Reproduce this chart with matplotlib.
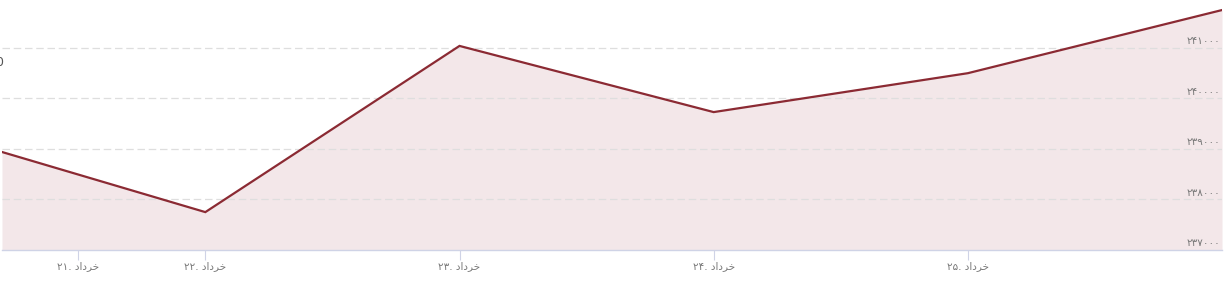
import matplotlib
matplotlib.use('Agg')
from matplotlib import pyplot as plt
from matplotlib.ticker import FixedLocator

# داده‌ها (روز خرداد و مقدار)
days = [21.2, 22, 23, 24, 25, 26]
values = [238940, 237750, 241040, 239730, 240500, 241750]

tick_days = [21.5, 22, 23, 24, 25]
tick_names = ['21', '22', '23', '24', '25']
y_ticks = [237000, 238000, 239000, 240000, 241000]

FA_DIGITS = str.maketrans('0123456789', '۰۱۲۳۴۵۶۷۸۹')
# "خرداد" با حروف شکل‌یافته و ترتیب نمایشی (matplotlib شکل‌دهی عربی ندارد)
MONTH = '\uFEA9\uFE8D\uFEA9\uFEAE\uFEA7'


def fa(s):
    return str(s).translate(FA_DIGITS)


plt.rcParams['font.family'] = ['DejaVu Sans']

fig = plt.figure(figsize=(12.25, 2.88), dpi=100)
ax = fig.add_axes([2 / 1225, 1 - 250 / 288, 1220 / 1225, 245 / 288])

line_c = '#8b2a33'
ax.fill_between(days, values, 237000, color='#f3e7e9', lw=0, zorder=1)
ax.plot(days, values, color=line_c, lw=1.6, solid_joinstyle='miter', zorder=3)

ax.set_xlim(21.2, 26.0)
ax.set_ylim(237000, 241850)

for v in y_ticks:
    if v != y_ticks[0]:
        ax.axhline(v, color='#dedede', lw=0.9, dashes=(6, 3), zorder=2)
    ax.annotate(fa(v), (1.0, v), xycoords=('axes fraction', 'data'),
                xytext=(-1, 5), textcoords='offset points',
                ha='right', va='center', fontsize=7.5, color='#777777')

for s in ['top', 'right', 'left']:
    ax.spines[s].set_visible(False)
ax.spines['bottom'].set_color('#cfd3e6')
ax.spines['bottom'].set_linewidth(1)

ax.set_yticks([])
ax.xaxis.set_major_locator(FixedLocator(tick_days))
ax.set_xticklabels([fa(n) + '. ' + MONTH for n in tick_names])
ax.tick_params(axis='x', length=7, width=0.8, color='#cfd3e6',
               labelsize=7.5, labelcolor='#777777', pad=1)

# تکه‌ی بریده‌شده در لبه‌ی چپ (در تصویر مرجع هم بریده است)
fig.text(-0.004, 1 - 62 / 288, '0', fontsize=9, color='#555555', va='center')

fig.savefig('out.png', dpi=100)
